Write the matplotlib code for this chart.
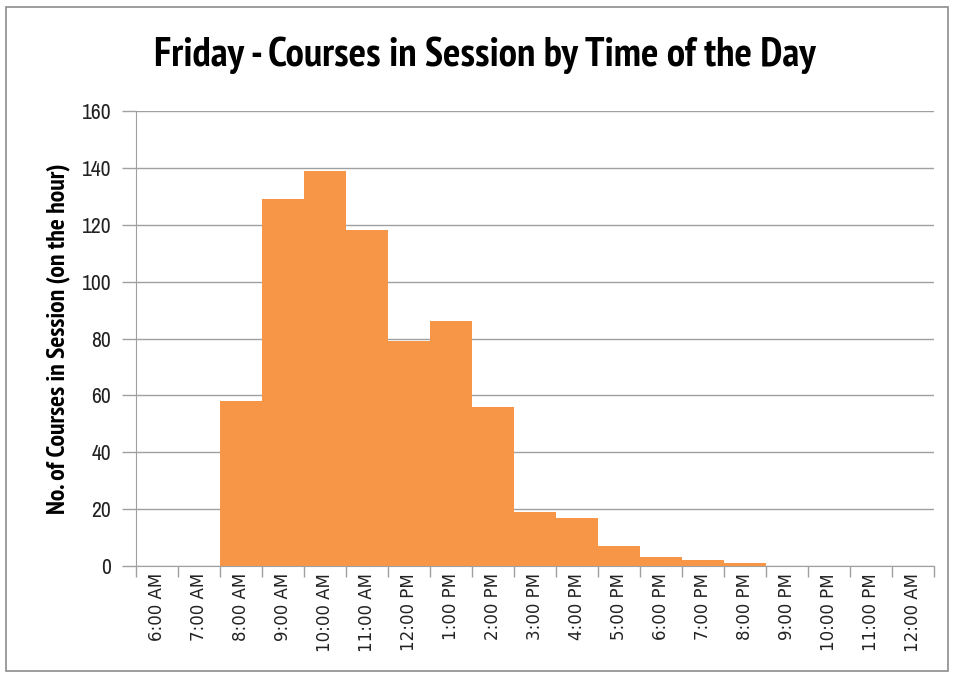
import matplotlib
matplotlib.use("Agg")
import matplotlib.pyplot as plt
from matplotlib import font_manager as fm
from matplotlib.patches import Rectangle
import numpy as np

times = ["6:00 AM", "7:00 AM", "8:00 AM", "9:00 AM", "10:00 AM", "11:00 AM",
         "12:00 PM", "1:00 PM", "2:00 PM", "3:00 PM", "4:00 PM", "5:00 PM",
         "6:00 PM", "7:00 PM", "8:00 PM", "9:00 PM", "10:00 PM", "11:00 PM",
         "12:00 AM"]
courses = [0, 0, 58, 129, 139, 118, 79, 86, 56, 19, 17, 7, 3, 2, 1, 0, 0, 0, 0]
y_ticks = [0, 20, 40, 60, 80, 100, 120, 140, 160]

bar_color = "#F79646"
axis_gray = "#A0A0A0"


def find_font(bold):
    # look for a condensed / narrow face among the installed fonts
    picks = []
    for f in fm.fontManager.ttflist:
        name = (f.name + " " + f.fname).lower()
        if ("condensed" in name or "narrow" in name) and "oblique" not in name and "italic" not in name:
            is_bold = f.weight in ("bold", 700) or "bold" in f.fname.lower()
            if is_bold == bold:
                picks.append(f)
    if picks:
        picks.sort(key=lambda f: ("narrow" not in f.fname.lower(), f.fname))
        return fm.FontProperties(fname=picks[0].fname)
    return fm.FontProperties(family="DejaVu Sans", weight="bold" if bold else "normal")


cond_bold = find_font(True)
cond_reg = find_font(False)

fig = plt.figure(figsize=(9.54, 6.75), dpi=100)

# outer chart-area frame
fig.patches.append(Rectangle((0.006, 0.006), 0.988, 0.984, transform=fig.transFigure,
                             fill=False, edgecolor="#8c8c8c", linewidth=1.2))

ax = fig.add_axes([0.1426, 0.1615, 0.8365, 0.674])

x = np.arange(len(times))
ax.bar(x, courses, width=1.0, color=bar_color, edgecolor="none", zorder=3)

ax.set_xlim(-0.5, len(times) - 0.5)
ax.set_ylim(0, 160)

# tick marks sit on the category boundaries, labels in the middle
ax.set_xticks(np.arange(len(times) + 1) - 0.5)
ax.set_xticklabels([])
ax.set_xticks(x, minor=True)
ax.set_xticklabels(times, minor=True, rotation=90, fontsize=12,
                   family="DejaVu Sans", color="#222222")
ax.tick_params(axis="x", which="major", length=8, color=axis_gray, width=1)
ax.tick_params(axis="x", which="minor", length=0, pad=5)

ax.set_yticks(y_ticks)
ax.set_yticklabels([str(v) for v in y_ticks], color="#222222")
for lab in ax.get_yticklabels():
    lab.set_fontproperties(cond_reg)
    lab.set_fontsize(15.5)
ax.tick_params(axis="y", length=10, color=axis_gray, width=1, pad=8)

ax.grid(axis="y", color=axis_gray, linewidth=1, zorder=0)
for side in ["top", "right"]:
    ax.spines[side].set_visible(False)
ax.spines["left"].set_color(axis_gray)
ax.spines["bottom"].set_color(axis_gray)

ylab_fp = cond_bold.copy()
ylab_fp.set_size(18.5)
ax.set_ylabel("No. of Courses in Session (on the hour)", fontproperties=ylab_fp, labelpad=8)

title_fp = cond_bold.copy()
title_fp.set_size(29.5)
fig.text(0.508, 0.918, "Friday - Courses in Session by Time of the Day",
         ha="center", va="center", fontproperties=title_fp)

fig.savefig("out.png", dpi=100)
